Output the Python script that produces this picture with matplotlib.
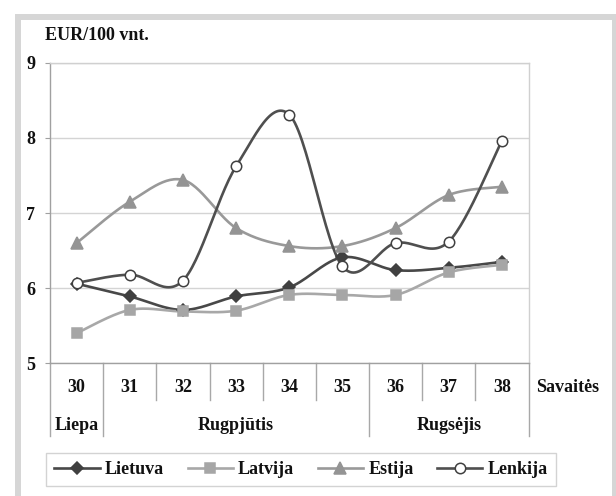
import numpy as np
import matplotlib
matplotlib.use("Agg")
import matplotlib.pyplot as plt
from matplotlib.lines import Line2D
from matplotlib.patches import Rectangle
from matplotlib.transforms import blended_transform_factory

weeks = ["30", "31", "32", "33", "34", "35", "36", "37", "38"]
months = ["Liepa", "Rugpjūtis", "Rugsėjis"]
month_spans = [(0, 0), (1, 5), (6, 8)]  # first and last week index of each month

lietuva = [6.06, 5.89, 5.71, 5.89, 6.01, 6.41, 6.24, 6.27, 6.35]
latvija = [5.40, 5.71, 5.69, 5.70, 5.91, 5.91, 5.91, 6.21, 6.31]
estija = [6.60, 7.15, 7.44, 6.80, 6.56, 6.56, 6.80, 7.24, 7.35]
lenkija = [6.07, 6.18, 6.10, 7.62, 8.31, 6.29, 6.60, 6.62, 7.96]

series = [
    ("Lietuva", lietuva, "#484848", "D", "#404040", "#404040", 6),
    ("Latvija", latvija, "#a8a8a8", "s", "#a6a6a6", "#a6a6a6", 7),
    ("Estija", estija, "#999999", "^", "#949494", "#949494", 8),
    ("Lenkija", lenkija, "#4f4f4f", "o", "white", "#404040", 7.5),
]


def smooth(y, n=30):
    # bezier curve through the points, like spreadsheet "smoothed line"
    x = np.arange(len(y), dtype=float)
    y = np.asarray(y, dtype=float)
    pts = np.column_stack([x, y])
    out = []
    for i in range(len(pts) - 1):
        p0 = pts[max(i - 1, 0)]
        p1 = pts[i]
        p2 = pts[i + 1]
        p3 = pts[min(i + 2, len(pts) - 1)]
        c1 = p1 + (p2 - p0) / 6
        c2 = p2 - (p3 - p1) / 6
        t = np.linspace(0, 1, n)[:, None]
        seg = ((1 - t) ** 3) * p1 + 3 * ((1 - t) ** 2) * t * c1 + 3 * (1 - t) * t ** 2 * c2 + t ** 3 * p2
        out.append(seg if i == 0 else seg[1:])
    out = np.vstack(out)
    return out[:, 0], out[:, 1]


W, H = 616, 496
fs = 13
fig = plt.figure(figsize=(W / 100, H / 100), dpi=100)
plt.rcParams["font.family"] = ["Liberation Serif", "DejaVu Serif"]

# outer grey frame
fig.patches.append(Rectangle((18 / W, -0.05), (614.5 - 18) / W, (496 - 17) / H + 0.05,
                             transform=fig.transFigure, fill=False,
                             edgecolor="#d6d6d6", linewidth=4.3))

ax = fig.add_axes([50 / W, (H - 363.3) / H, 478.5 / W, 300.6 / H])
x = np.arange(len(weeks))

for name, vals, lc, mk, mfc, mec, ms in series:
    xs, ys = smooth(vals)
    ax.plot(xs, ys, color=lc, linewidth=1.9, zorder=3, solid_capstyle="round")
    ax.plot(x, vals, linestyle="none", marker=mk, markersize=ms,
            markerfacecolor=mfc, markeredgecolor=mec, markeredgewidth=1.1, zorder=4)

ax.set_xlim(-0.5, len(weeks) - 0.5)
ax.set_ylim(5, 9)
ax.set_yticks([5, 6, 7, 8, 9])
ax.set_yticklabels(["5", "6", "7", "8", "9"], fontsize=fs, fontweight="bold", color="#111111")
ax.tick_params(axis="y", length=3.6, width=0.8, color="#a0a0a0", pad=7)
ax.set_xticks([])
ax.grid(axis="y", color="#d4d4d4", linewidth=1.0)
ax.set_axisbelow(True)
for side in ["top", "right"]:
    ax.spines[side].set_color("#d0d0d0")
    ax.spines[side].set_linewidth(1.0)
ax.spines["left"].set_color("#a0a0a0")
ax.spines["bottom"].set_color("#a0a0a0")
ax.spines["left"].set_linewidth(1.0)
ax.spines["bottom"].set_linewidth(1.0)

# category table below the axis
tr = blended_transform_factory(ax.transData, ax.transAxes)
ph = 300.6
week_y = -(387 - 363.3) / ph
month_y = -(425 - 363.3) / ph
week_line = -(400 - 363.3) / ph
month_line = -(436 - 363.3) / ph
for i, w in enumerate(weeks):
    ax.text(i, week_y, w, transform=tr, ha="center", va="center",
            fontsize=fs, fontweight="bold", color="#111111")
month_edges = set()
for a, b in month_spans:
    month_edges.add(a - 0.5)
    month_edges.add(b + 0.5)
for k in range(len(weeks) + 1):
    xe = k - 0.5
    bottom = month_line if xe in month_edges else week_line
    ax.plot([xe, xe], [0, bottom], transform=tr, color="#a8a8a8",
            linewidth=1.0, clip_on=False)
for name, (a, b) in zip(months, month_spans):
    ax.text((a + b) / 2, month_y, name, transform=tr, ha="center", va="center",
            fontsize=fs, fontweight="bold", color="#111111")

fig.text(536 / W, 1 - 387 / H, "Savaitės", ha="left", va="center",
         fontsize=fs, fontweight="bold", color="#111111")
fig.text(45 / W, 1 - 36 / H, "EUR/100 vnt.", ha="left", va="center",
         fontsize=fs, fontweight="bold", color="#111111")

handles = []
for name, vals, lc, mk, mfc, mec, ms in series:
    handles.append(Line2D([], [], color=lc, linewidth=1.9, marker=mk, markersize=ms,
                          markerfacecolor=mfc, markeredgecolor=mec, markeredgewidth=1.1))
leg = fig.legend(handles, [s[0] for s in series], ncol=4,
                 loc="center", bbox_to_anchor=(301 / W, 1 - 469.5 / H),
                 prop={"family": ["Liberation Serif"], "weight": "bold", "size": fs},
                 frameon=True, fancybox=False, edgecolor="#c8c8c8",
                 handlelength=2.5, handletextpad=0.3, columnspacing=1.3,
                 borderpad=0.45)
leg.get_frame().set_linewidth(1.0)
for t in leg.get_texts():
    t.set_color("#111111")

fig.savefig("out.png", dpi=100)
